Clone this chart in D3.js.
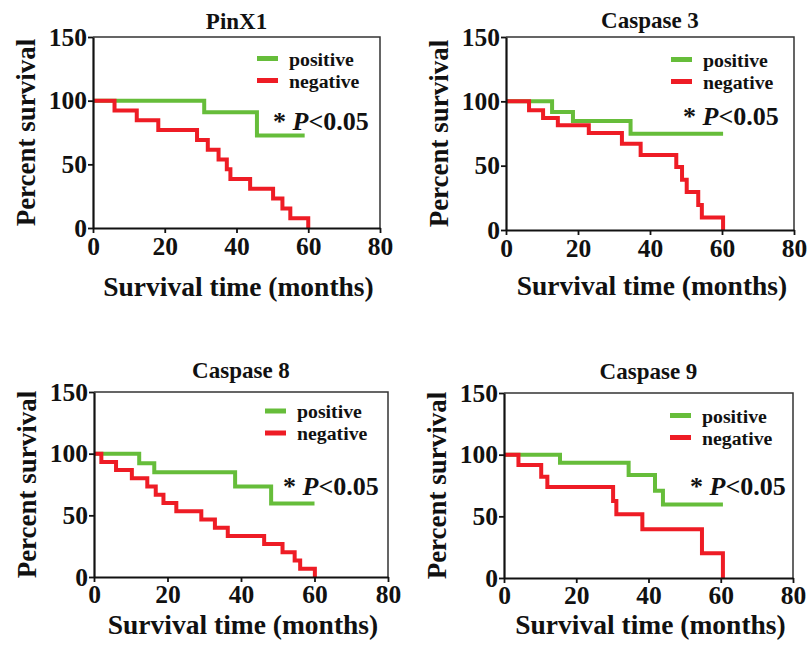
<!DOCTYPE html>
<html>
<head>
<meta charset="utf-8">
<script src="https://cdn.jsdelivr.net/npm/d3@7"></script>
<style>
  body { margin: 0; background: #fff; }
  text { font-family: "Liberation Serif", "Times New Roman", serif; font-weight: bold; fill: #111; }
</style>
</head>
<body>
<svg id="km"></svg>
<script>
// tick labels
let monthTicks = [0, 20, 40, 60, 80]
let pctTicks = [0, 50, 100, 150]
let groups = ["positive", "negative"]
let titles = ["PinX1", "Caspase 3", "Caspase 8", "Caspase 9"]

// kaplan-meier steps: [month, percent surviving after the drop]
let pinx1Pos = [[0, 100], [31, 90.9], [45.7, 72.7], [59, 72.7]]
let pinx1Neg = [[0, 100], [6, 92.3], [12.2, 84.6], [18.2, 76.9], [29, 69.2], [32, 61.5], [35, 53.8],
    [37.3, 46.2], [38.3, 38.5], [43.8, 30.8], [50.2, 23.1], [52.8, 15.4], [55, 7.7], [60, 0]]

let casp3Pos = [[0, 100], [12.8, 91.7], [18.6, 84.7], [34.6, 74.8], [60.3, 74.8]]
let casp3Neg = [[0, 100], [6.4, 93], [10.3, 87], [14.4, 81.5], [23, 75.4], [32.2, 67], [37.4, 58.3],
    [47.3, 49], [48.9, 39], [50.2, 29.5], [53.4, 19.5], [54.4, 9.8], [60.3, 0]]

let casp8Pos = [[0, 100], [12.3, 92.3], [16.4, 85], [38.4, 73.3], [48.2, 59.5], [60, 59.5]]
let casp8Neg = [[0, 100], [2, 93.3], [6, 86.7], [10.3, 80], [14.5, 73.3], [16.8, 66.7], [18.9, 60],
    [22.4, 53.3], [29.2, 46.7], [32.9, 40], [36.4, 33.3], [46.3, 26.7], [51.3, 20], [54.6, 13.3],
    [56.1, 6.7], [60.1, 0]]

let casp9Pos = [[0, 100], [15.5, 93.5], [34.5, 83.5], [41.8, 70.8], [44, 59.5], [60.6, 59.5]]
let casp9Neg = [[0, 100], [4, 91.6], [10.3, 82], [12, 73.8], [30.2, 62.5], [31.1, 51.7], [38.3, 39.5],
    [54.8, 20], [60.6, 0]]

let colors = {positive: "#66bd3a", negative: "#ee1c25"}

// panel boxes in page pixels
let layout = [
    {x0: 93, x1: 380, y0: 37, y1: 228, titleDy: -8, legDy: 21.5, pDx: -107, pDy: 93, xlabDy: 68, tickPad: 4},
    {x0: 506, x1: 794, y0: 37, y1: 230, titleDy: -9, legDy: 22.5, pDx: -111, pDy: 88, xlabDy: 65, tickPad: 4},
    {x0: 94, x1: 388, y0: 392, y1: 577, titleDy: -14, legDy: 19, pDx: -105, pDy: 103, xlabDy: 57, tickPad: 3},
    {x0: 504, x1: 793, y0: 393, y1: 578, titleDy: -14, legDy: 22.5, pDx: -103, pDy: 102, xlabDy: 56, tickPad: 3}
]

let series = [
    [pinx1Pos, pinx1Neg],
    [casp3Pos, casp3Neg],
    [casp8Pos, casp8Neg],
    [casp9Pos, casp9Neg]
]

let svg = d3.select("#km")
    .attr("width", 807)
    .attr("height", 648)

layout.forEach(function(box, i) {

    let xScale = d3.scaleLinear().domain([0, 80]).range([box.x0, box.x1])
    let yScale = d3.scaleLinear().domain([0, 150]).range([box.y1, box.y0])

    let g = svg.append("g").attr("class", "panel")

    // thin frame on top and right
    g.append("path")
        .attr("d", "M" + box.x0 + "," + box.y0 + "H" + box.x1 + "V" + box.y1)
        .attr("fill", "none")
        .attr("stroke", "#333")
        .attr("stroke-width", 1.5)

    let line = d3.line()
        .x(d => xScale(d[0]))
        .y(d => yScale(d[1]))
        .curve(d3.curveStepAfter)

    series[i].forEach(function(s, j) {
        g.append("path")
            .datum(s)
            .attr("d", line)
            .attr("fill", "none")
            .attr("stroke", colors[groups[j]])
            .attr("stroke-width", 4)
            .attr("stroke-linejoin", "miter")
    })

    g.append("g")
        .attr("transform", "translate(" + box.x0 + ",0)")
        .call(d3.axisLeft(yScale).tickValues(pctTicks).tickSize(5).tickSizeOuter(0).tickPadding(1))
    g.append("g")
        .attr("transform", "translate(0," + box.y1 + ")")
        .call(d3.axisBottom(xScale).tickValues(monthTicks).tickSize(5).tickSizeOuter(0).tickPadding(box.tickPad))

    g.selectAll(".domain").attr("stroke", "#111").attr("stroke-width", 2.2)
    g.selectAll(".tick line").attr("stroke", "#111").attr("stroke-width", 1.8)
    g.selectAll(".tick text")
        .attr("font-size", 25.5)
        .attr("font-family", "'Liberation Serif', serif")
        .attr("fill", "#111")

    let cx = (box.x0 + box.x1) / 2

    g.append("text")
        .text(titles[i])
        .attr("x", cx)
        .attr("y", box.y0 + box.titleDy)
        .attr("text-anchor", "middle")
        .attr("font-size", 23)

    g.append("text")
        .text("Survival time (months)")
        .attr("x", cx + 2)
        .attr("y", box.y1 + box.xlabDy)
        .attr("text-anchor", "middle")
        .attr("font-size", 27.5)

    g.append("text")
        .text("Percent survival")
        .attr("text-anchor", "middle")
        .attr("font-size", 27)
        .attr("transform", "translate(" + (box.x0 - 58) + "," + ((box.y0 + box.y1) / 2) + ") rotate(-90)")

    // legend
    groups.forEach(function(name, j) {
        let ly = box.y0 + box.legDy + j * 22
        g.append("line")
            .attr("x1", box.x1 - 123)
            .attr("x2", box.x1 - 102)
            .attr("y1", ly)
            .attr("y2", ly)
            .attr("stroke", colors[name])
            .attr("stroke-width", 5)
        g.append("text")
            .text(name)
            .attr("x", box.x1 - 91)
            .attr("y", ly + 7)
            .attr("font-size", 19.8)
    })

    let p = g.append("text")
        .attr("x", box.x1 + box.pDx)
        .attr("y", box.y0 + box.pDy)
        .attr("font-size", 26)
    p.append("tspan").text("* ")
    p.append("tspan").text("P").attr("font-style", "italic")
    p.append("tspan").text("<0.05")
})
</script>
</body>
</html>
